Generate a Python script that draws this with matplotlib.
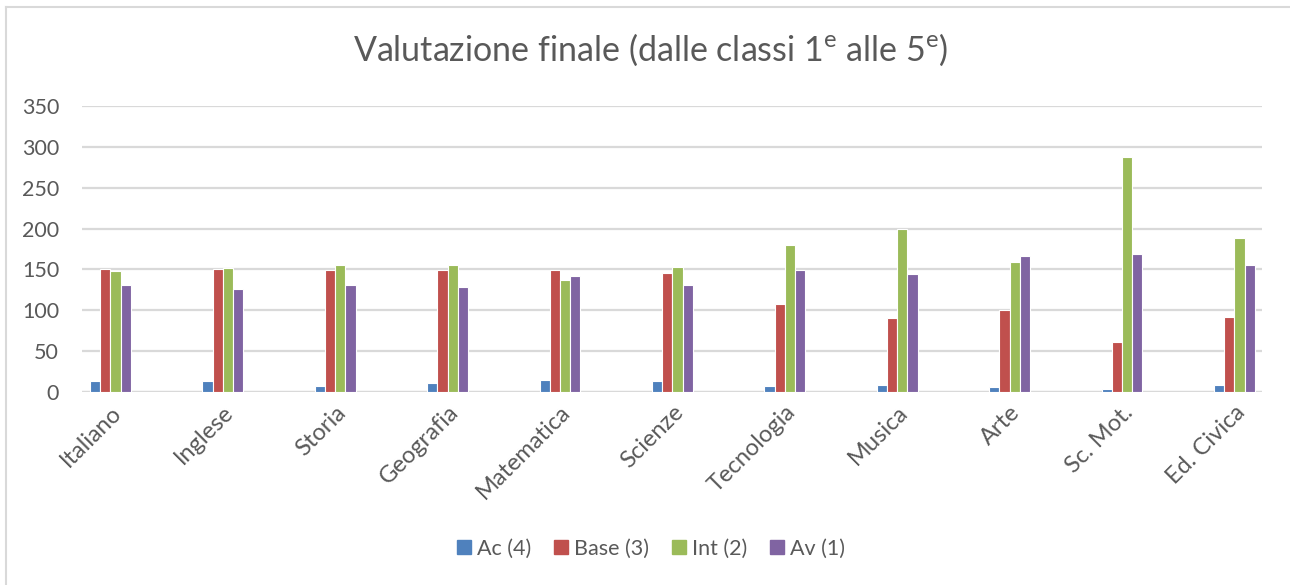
import numpy as np
import matplotlib
matplotlib.use("Agg")
import matplotlib.pyplot as plt
from matplotlib.lines import Line2D

plt.rcParams['font.family'] = ['Lato', 'DejaVu Sans']
plt.rcParams['mathtext.fontset'] = 'custom'
plt.rcParams['mathtext.rm'] = 'Lato'

materie = ["Italiano", "Inglese", "Storia", "Geografia", "Matematica", "Scienze",
           "Tecnologia", "Musica", "Arte", "Sc. Mot.", "Ed. Civica"]
ac = [14, 14, 7, 11, 15, 14, 7, 8, 6, 4, 8]
base = [151, 151, 149, 149, 149, 146, 108, 90, 100, 61, 92]
inter = [148, 152, 156, 155, 137, 153, 180, 200, 159, 287, 188]
av = [131, 126, 131, 128, 142, 131, 149, 145, 167, 169, 155]

serie = ["Ac (4)", "Base (3)", "Int (2)", "Av (1)"]
colori = ["#4F81BD", "#C0504D", "#9BBB59", "#8064A2"]
testo = "#595959"

fig = plt.figure(figsize=(12.9, 5.85), dpi=100)
ax = fig.add_axes([82/1290, 193/585, 1180/1290, 286/585])

x = np.arange(len(materie))
passo = 0.0907
for k, (vals, col) in enumerate(zip([ac, base, inter, av], colori)):
    ax.bar(x + (k - 1.5) * passo, vals, width=passo, color=col,
           edgecolor="white", linewidth=0.8, label=serie[k], zorder=3)

ax.set_xlim(-0.253, 10.245)
ax.set_ylim(0, 350)
ax.set_yticks(range(0, 351, 50))
ax.grid(axis="y", color="#D9D9D9", linewidth=1.6, zorder=0)
for s in ax.spines.values():
    s.set_visible(False)
ax.axhline(0, color="#D9D9D9", linewidth=1.6, zorder=2)

ax.tick_params(axis="y", length=0, pad=16.5, labelsize=15.5, labelcolor=testo)
ax.set_xticks(x)
ax.set_xticklabels(materie, rotation=45, ha="right", va="top",
                   rotation_mode="anchor", fontsize=17, color=testo)
ax.tick_params(axis="x", length=0, pad=7)

fig.text(0.504, 0.9145, "Valutazione finale (dalle classi 1$^{\\mathrm{e}}$ alle 5$^{\\mathrm{e}}$)",
         ha="center", va="center", fontsize=24.5, color=testo)

handles = [Line2D([], [], marker="s", linestyle="", markersize=10,
                  markerfacecolor=c, markeredgecolor=c) for c in colori]
fig.legend(handles, serie, loc="center", bbox_to_anchor=(0.504, 0.0615), ncol=4,
           frameon=False, fontsize=15.5, labelcolor=testo, handletextpad=0.2,
           columnspacing=1.0, handlelength=0.8)

# bordo dell'area grafico
fig.add_artist(Line2D([6/1290, 6/1290], [0, 1 - 7/585], color="#D9D9D9", linewidth=1.5,
                      transform=fig.transFigure))
fig.add_artist(Line2D([6/1290, 1], [1 - 7/585, 1 - 7/585], color="#D9D9D9", linewidth=1.5,
                      transform=fig.transFigure))

fig.savefig("out.png", dpi=100)
